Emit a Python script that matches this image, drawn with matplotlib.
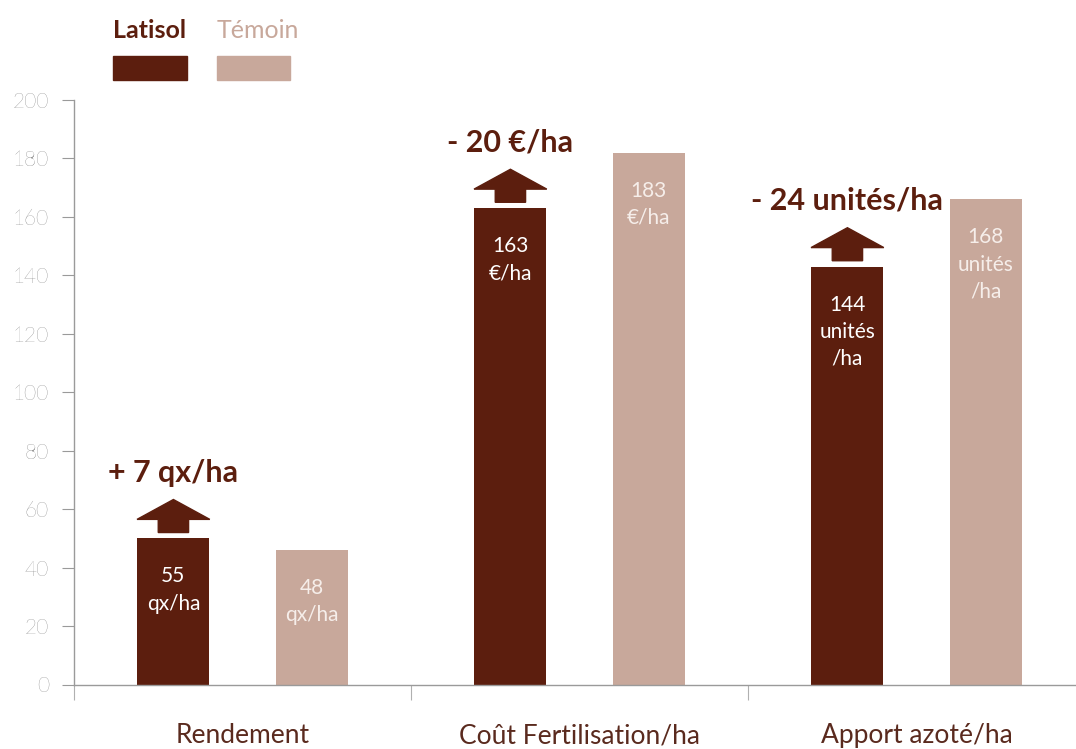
import matplotlib
matplotlib.use("Agg")
import matplotlib.pyplot as plt
from matplotlib.patches import Polygon, Rectangle

plt.rcParams['font.family'] = ['Lato', 'DejaVu Sans']

# ---- data ----
categories = ["Rendement", "Coût Fertilisation/ha", "Apport azoté/ha"]
latisol = [50, 163, 143]
temoin = [46, 182, 166]
latisol_labels = ["55\nqx/ha", "163\n€/ha", "144\nunités\n/ha"]
temoin_labels = ["48\nqx/ha", "183\n€/ha", "168\nunités\n/ha"]
gain_labels = ["+ 7 qx/ha", "- 20 €/ha", "- 24 unités/ha"]
yticks = [0, 20, 40, 60, 80, 100, 120, 140, 160, 180, 200]
series_names = ["Latisol", "Témoin"]

C_LAT = "#5c1e0e"
C_TEM = "#c8a89b"
C_TXT = "#5a2a1e"

W, H = 1076, 749
fig = plt.figure(figsize=(W / 100, H / 100), dpi=100)
ax = fig.add_axes([74 / W, 64.5 / H, 1011 / W, 584.5 / H])

n = len(categories)
centers = [i + 0.5 for i in range(n)]
off = 0.205
bw = 0.214
xl = [c - off for c in centers]
xt = [c + off for c in centers]

ax.bar(xl, latisol, width=bw, color=C_LAT, zorder=2)
ax.bar(xt, temoin, width=bw, color=C_TEM, zorder=2)

ax.set_xlim(0, 3)
ax.set_ylim(0, 200)

# in-bar labels
for x, h, lab in zip(xl, latisol, latisol_labels):
    ax.annotate(lab, (x, h), xytext=(0, -28), textcoords="offset pixels",
                ha="center", va="top", color="white", fontsize=15,
                linespacing=1.45, zorder=3)
for x, h, lab in zip(xt, temoin, temoin_labels):
    ax.annotate(lab, (x, h), xytext=(0, -28), textcoords="offset pixels",
                ha="center", va="top", color="#f6eeea", fontsize=15,
                linespacing=1.45, zorder=3)

# arrows above Latisol bars
gap, shaft_h, head_h = 2.0, 4.5, 6.8
shaft_w, head_w = 0.045, 0.108
for x, h, lab in zip(xl, latisol, gain_labels):
    b = h + gap
    m = b + shaft_h
    t = m + head_h
    pts = [(x - shaft_w, b), (x + shaft_w, b), (x + shaft_w, m), (x + head_w, m),
           (x, t), (x - head_w, m), (x - shaft_w, m)]
    ax.add_patch(Polygon(pts, closed=True, color=C_LAT, zorder=3, clip_on=False))
    ax.annotate(lab, (x, t), xytext=(0, 27), textcoords="offset pixels",
                ha="center", va="center", color=C_LAT, fontsize=22,
                fontweight="bold", annotation_clip=False)

# axes styling
for s in ["top", "right"]:
    ax.spines[s].set_visible(False)
ax.spines["left"].set_color("#9a9a9a")
ax.spines["bottom"].set_color("#9a9a9a")
ax.spines["left"].set_linewidth(1.0)
ax.spines["bottom"].set_linewidth(1.0)

ax.set_yticks(yticks)
ax.set_yticklabels([str(v) for v in yticks])
ax.tick_params(axis="y", length=9, width=0.8, color="#9a9a9a", pad=9,
               labelsize=15, labelcolor="#555555")
for t in ax.get_yticklabels():
    t.set_fontweight("light")

ax.set_xticks([0, 1, 2])
ax.set_xticklabels(["", "", ""])
ax.tick_params(axis="x", which="major", length=11, width=0.8, color="#b0b0b0")
ax.set_xticks(centers, minor=True)
ax.set_xticklabels(categories, minor=True)
ax.tick_params(axis="x", which="minor", length=0, pad=28, labelsize=19,
               labelcolor=C_TXT)

# legend
fig.text(113 / W, 1 - 30 / H, series_names[0], color=C_LAT, fontsize=18,
         fontweight="bold", ha="left", va="center")
fig.text(217 / W, 1 - 30 / H, series_names[1], color=C_TEM, fontsize=18,
         ha="left", va="center")
fig.patches.append(Rectangle((113 / W, 1 - 80 / H), 74 / W, 24 / H,
                             transform=fig.transFigure, color=C_LAT))
fig.patches.append(Rectangle((217 / W, 1 - 80 / H), 73 / W, 24 / H,
                             transform=fig.transFigure, color=C_TEM))

fig.savefig("out.png", dpi=100, facecolor="white")
